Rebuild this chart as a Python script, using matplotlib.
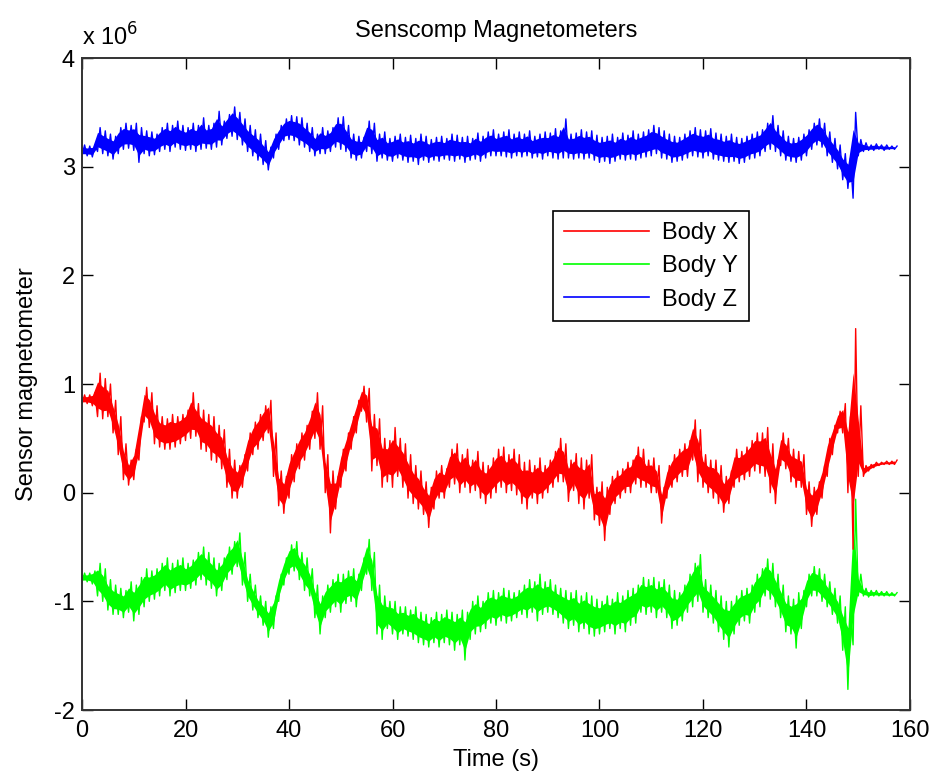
import numpy as np
import matplotlib
matplotlib.use("Agg")
import matplotlib.pyplot as plt

plt.rcParams['font.family'] = ['Liberation Sans', 'DejaVu Sans']
plt.rcParams['axes.unicode_minus'] = False

# time in seconds, one sample per second (band read as upper / lower edge)
time_s = list(range(0, 158))

# values in units of 1e6
body_z_hi = [3.20, 3.19, 3.20, 3.36, 3.33, 3.30, 3.28, 3.36, 3.40, 3.38,
             3.40, 3.36, 3.33, 3.32, 3.30, 3.36, 3.40, 3.38, 3.42, 3.38,
             3.36, 3.40, 3.38, 3.45, 3.38, 3.40, 3.51, 3.42, 3.48, 3.55,
             3.50, 3.44, 3.38, 3.34, 3.30, 3.24, 3.18, 3.30, 3.38, 3.44,
             3.47, 3.46, 3.45, 3.40, 3.36, 3.30, 3.36, 3.33, 3.36, 3.45,
             3.46, 3.38, 3.30, 3.28, 3.27, 3.42, 3.40, 3.30, 3.32, 3.26,
             3.28, 3.30, 3.27, 3.29, 3.26, 3.30, 3.28, 3.25, 3.27, 3.28,
             3.26, 3.30, 3.29, 3.27, 3.28, 3.26, 3.31, 3.28, 3.32, 3.34,
             3.30, 3.32, 3.34, 3.30, 3.32, 3.30, 3.33, 3.28, 3.30, 3.32,
             3.31, 3.35, 3.33, 3.44, 3.30, 3.31, 3.34, 3.32, 3.33, 3.29,
             3.27, 3.28, 3.30, 3.27, 3.31, 3.29, 3.33, 3.30, 3.32, 3.34,
             3.38, 3.36, 3.33, 3.30, 3.28, 3.27, 3.30, 3.33, 3.36, 3.34,
             3.33, 3.35, 3.31, 3.30, 3.28, 3.30, 3.27, 3.26, 3.28, 3.30,
             3.32, 3.34, 3.40, 3.47, 3.38, 3.33, 3.28, 3.26, 3.27, 3.30,
             3.34, 3.40, 3.44, 3.40, 3.32, 3.26, 3.20, 3.12, 3.08, 3.50,
             3.25, 3.22, 3.20, 3.21, 3.20, 3.20, 3.19, 3.19]
body_z_lo = [3.10, 3.10, 3.09, 3.14, 3.12, 3.10, 3.07, 3.12, 3.16, 3.17,
             3.15, 3.04, 3.12, 3.10, 3.11, 3.14, 3.16, 3.14, 3.18, 3.16,
             3.15, 3.16, 3.14, 3.16, 3.17, 3.16, 3.18, 3.20, 3.26, 3.28,
             3.25, 3.20, 3.14, 3.10, 3.06, 3.02, 2.97, 3.08, 3.16, 3.24,
             3.25, 3.24, 3.20, 3.18, 3.14, 3.10, 3.12, 3.12, 3.14, 3.18,
             3.16, 3.14, 3.08, 3.06, 3.08, 3.14, 3.12, 3.05, 3.08, 3.06,
             3.05, 3.08, 3.06, 3.04, 3.05, 3.02, 3.06, 3.04, 3.06, 3.05,
             3.07, 3.06, 3.05, 3.07, 3.04, 3.06, 3.07, 3.05, 3.08, 3.10,
             3.10, 3.10, 3.09, 3.08, 3.10, 3.09, 3.10, 3.08, 3.09, 3.07,
             3.10, 3.08, 3.07, 3.08, 3.08, 3.07, 3.08, 3.07, 3.08, 3.06,
             3.04, 3.05, 3.03, 3.05, 3.07, 3.06, 3.07, 3.06, 3.08, 3.09,
             3.10, 3.12, 3.08, 3.07, 3.04, 3.05, 3.06, 3.08, 3.10, 3.09,
             3.08, 3.10, 3.07, 3.06, 3.05, 3.04, 3.05, 3.03, 3.04, 3.07,
             3.08, 3.10, 3.14, 3.16, 3.14, 3.10, 3.06, 3.05, 3.04, 3.06,
             3.10, 3.16, 3.20, 3.18, 3.10, 3.04, 2.98, 2.88, 2.80, 2.71,
             3.10, 3.14, 3.15, 3.15, 3.16, 3.15, 3.16, 3.16]

body_x_hi = [0.90, 0.90, 0.92, 1.10, 1.05, 1.00, 0.85, 0.70, 0.45, 0.30,
             0.40, 0.70, 0.97, 0.92, 0.80, 0.70, 0.68, 0.72, 0.70, 0.72,
             0.76, 0.92, 0.82, 0.76, 0.72, 0.70, 0.62, 0.58, 0.40, 0.30,
             0.25, 0.35, 0.55, 0.65, 0.72, 0.80, 0.85, 0.55, 0.20, 0.15,
             0.35, 0.45, 0.55, 0.62, 0.75, 0.92, 0.80, 0.35, 0.20, 0.15,
             0.40, 0.55, 0.70, 0.85, 0.98, 0.96, 0.72, 0.68, 0.50, 0.48,
             0.60, 0.50, 0.45, 0.35, 0.25, 0.20, 0.10, 0.05, 0.20, 0.25,
             0.22, 0.40, 0.45, 0.35, 0.40, 0.30, 0.38, 0.28, 0.25, 0.32,
             0.40, 0.42, 0.35, 0.40, 0.35, 0.28, 0.30, 0.25, 0.32, 0.25,
             0.30, 0.38, 0.50, 0.45, 0.30, 0.36, 0.32, 0.30, 0.35, 0.05,
             0.10, 0.05, 0.15, 0.20, 0.22, 0.28, 0.30, 0.42, 0.40, 0.30,
             0.32, 0.25, 0.05, 0.25, 0.35, 0.40, 0.45, 0.48, 0.67, 0.58,
             0.35, 0.30, 0.30, 0.25, 0.15, 0.20, 0.40, 0.38, 0.42, 0.48,
             0.55, 0.55, 0.60, 0.45, 0.30, 0.55, 0.50, 0.40, 0.38, 0.35,
             0.10, 0.05, 0.10, 0.25, 0.50, 0.62, 0.75, 0.82, 0.70, 1.51,
             0.80, 0.25, 0.26, 0.28, 0.28, 0.29, 0.29, 0.30]
body_x_lo = [0.82, 0.82, 0.80, 0.70, 0.68, 0.70, 0.55, 0.35, 0.12, 0.07,
             0.12, 0.30, 0.65, 0.60, 0.45, 0.42, 0.40, 0.40, 0.42, 0.45,
             0.48, 0.50, 0.52, 0.40, 0.38, 0.30, 0.28, 0.22, 0.05, -0.05,
             -0.05, 0.05, 0.20, 0.35, 0.40, 0.48, 0.55, 0.15, -0.12, -0.19,
             -0.05, 0.10, 0.22, 0.30, 0.40, 0.50, 0.40, 0.00, -0.37, -0.15,
             0.05, 0.20, 0.40, 0.55, 0.75, 0.65, 0.20, 0.25, 0.05, 0.10,
             0.05, 0.15, 0.05, -0.05, -0.10, -0.15, -0.20, -0.32, -0.15, -0.05,
             -0.05, 0.05, 0.08, 0.00, 0.05, 0.00, 0.02, -0.05, -0.10, -0.05,
             0.00, 0.05, 0.00, 0.02, -0.02, -0.10, -0.15, -0.05, -0.10, -0.05,
             0.00, 0.05, 0.10, 0.10, -0.08, 0.02, -0.10, -0.15, -0.05, -0.25,
             -0.30, -0.44, -0.20, -0.10, -0.05, 0.00, 0.00, 0.08, 0.05, 0.05,
             0.00, 0.00, -0.28, -0.05, 0.05, 0.10, 0.15, 0.15, 0.30, 0.10,
             0.05, 0.00, -0.05, -0.10, -0.18, -0.10, 0.05, 0.10, 0.12, 0.15,
             0.20, 0.18, 0.15, 0.00, -0.10, 0.25, 0.22, 0.10, 0.05, 0.05,
             -0.20, -0.31, -0.20, -0.05, 0.15, 0.35, 0.55, 0.55, 0.00, -0.52,
             0.15, 0.15, 0.20, 0.23, 0.25, 0.26, 0.26, 0.26]

body_y_hi = [-0.74, -0.74, -0.72, -0.65, -0.70, -0.80, -0.85, -0.88, -0.90, -0.82,
             -0.85, -0.78, -0.70, -0.72, -0.70, -0.65, -0.60, -0.65, -0.62, -0.60,
             -0.65, -0.62, -0.55, -0.50, -0.55, -0.60, -0.65, -0.60, -0.50, -0.45,
             -0.37, -0.55, -0.75, -0.85, -0.95, -1.00, -1.05, -0.95, -0.75, -0.60,
             -0.48, -0.45, -0.55, -0.60, -0.70, -0.85, -0.95, -0.85, -0.80, -0.75,
             -0.75, -0.72, -0.70, -0.75, -0.60, -0.43, -0.55, -0.85, -0.95, -1.00,
             -1.00, -1.05, -1.05, -1.08, -1.05, -1.10, -1.12, -1.15, -1.10, -1.12,
             -1.08, -1.10, -1.12, -1.08, -1.10, -1.00, -0.95, -1.00, -0.92, -0.90,
             -0.92, -0.88, -0.90, -0.92, -0.90, -0.85, -0.80, -0.82, -0.75, -0.82,
             -0.80, -0.85, -0.88, -0.90, -0.92, -0.90, -0.95, -0.92, -0.95, -0.98,
             -1.00, -0.95, -0.98, -0.92, -0.95, -0.90, -0.88, -0.85, -0.78, -0.80,
             -0.78, -0.82, -0.80, -0.85, -0.90, -0.92, -0.85, -0.75, -0.65, -0.57,
             -0.80, -0.85, -0.90, -0.95, -1.00, -1.00, -0.95, -0.90, -0.88, -0.85,
             -0.75, -0.70, -0.61, -0.65, -0.75, -0.85, -0.95, -0.98, -0.92, -0.90,
             -0.75, -0.68, -0.70, -0.75, -0.82, -0.88, -0.95, -1.05, -1.10, -0.06,
             -0.75, -0.88, -0.90, -0.90, -0.91, -0.91, -0.92, -0.92]
body_y_lo = [-0.82, -0.82, -0.84, -0.95, -1.00, -1.08, -1.12, -1.12, -1.15, -1.10,
             -1.18, -1.12, -1.05, -1.00, -0.98, -0.95, -0.90, -0.95, -0.92, -0.90,
             -0.90, -0.88, -0.85, -0.80, -0.85, -0.88, -0.95, -0.90, -0.80, -0.75,
             -0.68, -0.85, -1.00, -1.08, -1.15, -1.22, -1.33, -1.25, -1.00, -0.85,
             -0.75, -0.72, -0.80, -0.90, -0.95, -1.15, -1.30, -1.15, -1.10, -1.05,
             -1.10, -1.02, -1.00, -1.05, -0.90, -0.75, -0.90, -1.30, -1.35, -1.25,
             -1.30, -1.35, -1.30, -1.32, -1.35, -1.38, -1.40, -1.42, -1.38, -1.42,
             -1.38, -1.40, -1.45, -1.40, -1.54, -1.35, -1.30, -1.28, -1.25, -1.20,
             -1.22, -1.18, -1.20, -1.18, -1.15, -1.12, -1.15, -1.10, -1.18, -1.12,
             -1.10, -1.12, -1.15, -1.20, -1.25, -1.22, -1.28, -1.25, -1.30, -1.32,
             -1.30, -1.28, -1.25, -1.30, -1.25, -1.28, -1.22, -1.20, -1.10, -1.12,
             -1.10, -1.15, -1.10, -1.15, -1.25, -1.22, -1.18, -1.10, -1.05, -1.00,
             -1.10, -1.15, -1.20, -1.28, -1.35, -1.42, -1.30, -1.22, -1.18, -1.20,
             -1.10, -1.05, -0.95, -0.98, -1.05, -1.15, -1.28, -1.30, -1.43, -1.25,
             -1.05, -0.95, -0.95, -1.00, -1.05, -1.12, -1.20, -1.45, -1.81, -1.40,
             -0.95, -0.95, -0.96, -0.95, -0.95, -0.95, -0.95, -0.95]

series_names = ["Body X", "Body Y", "Body Z"]
series_colors = ["#ff0000", "#00ff00", "#0000ff"]


def zigzag(t, lo, hi):
    # alternate between the lower and upper edge of the noisy band
    tt, yy = [], []
    for ti, a, b in zip(t, lo, hi):
        tt += [ti, ti + 0.5]
        yy += [a, b]
    return np.array(tt), np.array(yy)


fig = plt.figure(figsize=(9.34, 7.8), dpi=100)
ax = fig.add_axes([0.0878, 0.0897, 0.8865, 0.8359])

bands = [(body_x_lo, body_x_hi), (body_y_lo, body_y_hi), (body_z_lo, body_z_hi)]
for (lo, hi), name, col in zip(bands, series_names, series_colors):
    lo_a, hi_a = np.array(lo), np.array(hi)
    # dense core of the noisy band, edges left spiky by the zigzag
    ax.fill_between(time_s, lo_a + (hi_a - lo_a) * 0.2,
                    hi_a - (hi_a - lo_a) * 0.2, color=col, lw=0)
    tt, yy = zigzag(time_s, lo, hi)
    ax.plot(tt, yy, color=col, lw=1.0, label=name)

ax.set_xlim(0, 160)
ax.set_ylim(-2, 4)
ax.set_xticks(range(0, 161, 20))
ax.set_yticks(range(-2, 5))
ax.tick_params(direction='in', length=8, width=1, top=True, right=True,
               labelsize=17)
ax.tick_params(axis='x', pad=7)
ax.tick_params(axis='y', pad=5)
for sp in ax.spines.values():
    sp.set_linewidth(1.4)
    sp.set_color('#333333')

ax.text(0, 1.012, r'x 10$^{6}$', transform=ax.transAxes, fontsize=17,
        ha='left', va='bottom')
ax.set_title("Senscomp Magnetometers", fontsize=17, pad=15)
ax.set_xlabel("Time (s)", fontsize=17, labelpad=5)
ax.set_ylabel("Sensor magnetometer", fontsize=17, labelpad=12)

leg = ax.legend(loc='upper left', bbox_to_anchor=(0.569, 0.765), fontsize=17,
                handlelength=3.6, fancybox=False, framealpha=1,
                borderpad=0.45, labelspacing=0.48, handletextpad=0.55,
                borderaxespad=0)
leg.get_frame().set_edgecolor('black')
leg.get_frame().set_linewidth(1.2)
for line in leg.get_lines():
    line.set_linewidth(1.2)

fig.savefig("out.png", dpi=100)
